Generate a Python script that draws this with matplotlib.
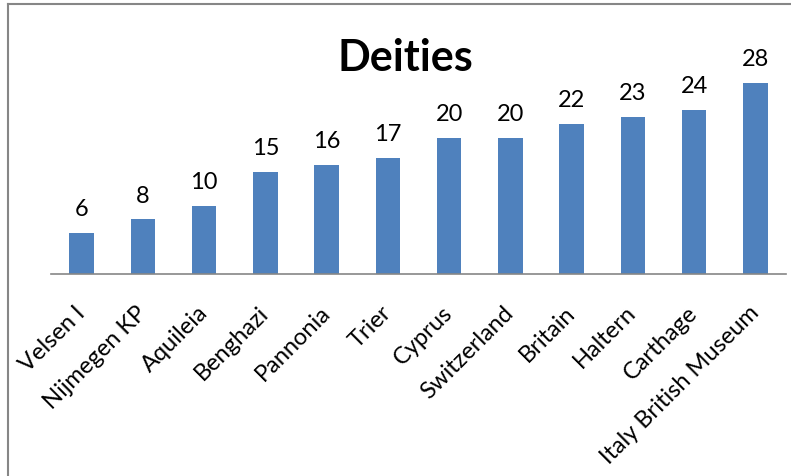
import matplotlib
matplotlib.use("Agg")
import matplotlib.pyplot as plt
from matplotlib.lines import Line2D

sites = ["Velsen I", "Nijmegen KP", "Aquileia", "Benghazi", "Pannonia", "Trier",
         "Cyprus", "Switzerland", "Britain", "Haltern", "Carthage",
         "Italy British Museum"]
deities = [6, 8, 10, 15, 16, 17, 20, 20, 22, 23, 24, 28]

plt.rcParams["font.family"] = ["Lato", "DejaVu Sans"]

W, H = 791, 477
fig = plt.figure(figsize=(W / 100, H / 100), dpi=100)
fig.patch.set_facecolor("white")

# plot area: baseline at y=275 px, x from 51 to 786 px
ax = fig.add_axes([51 / W, (H - 275) / H, 735 / W, 0.4289])
x = list(range(len(sites)))
bars = ax.bar(x, deities, width=0.4, color="#4F81BD")
ax.set_xlim(-0.5, len(sites) - 0.5)
ax.set_ylim(0, 30)

for xi, v in zip(x, deities):
    ax.annotate(f"{v}", (xi, v), xytext=(0, 10), textcoords="offset points",
                ha="center", va="bottom", fontsize=17, color="black")

ax.set_xticks(x)
ax.set_xticklabels(sites, rotation=45, ha="right", va="center",
                   rotation_mode="anchor", fontsize=17)
ax.tick_params(axis="x", length=0, pad=25)
ax.set_yticks([])
for s in ["top", "right", "left"]:
    ax.spines[s].set_visible(False)
ax.spines["bottom"].set_color("#868686")
ax.spines["bottom"].set_linewidth(1.2)

fig.text(405 / W, 1 - 58 / H, "Deities", ha="center", va="center",
         fontsize=31, fontweight="bold")

# chart frame (left and top edges)
fig.add_artist(Line2D([7.5 / W, 7.5 / W], [0, 1 - 4.5 / H], transform=fig.transFigure,
                      color="#868686", linewidth=1.5))
fig.add_artist(Line2D([7.5 / W, 1], [1 - 4.5 / H, 1 - 4.5 / H], transform=fig.transFigure,
                      color="#868686", linewidth=1.5))

fig.savefig("out.png", dpi=100)
